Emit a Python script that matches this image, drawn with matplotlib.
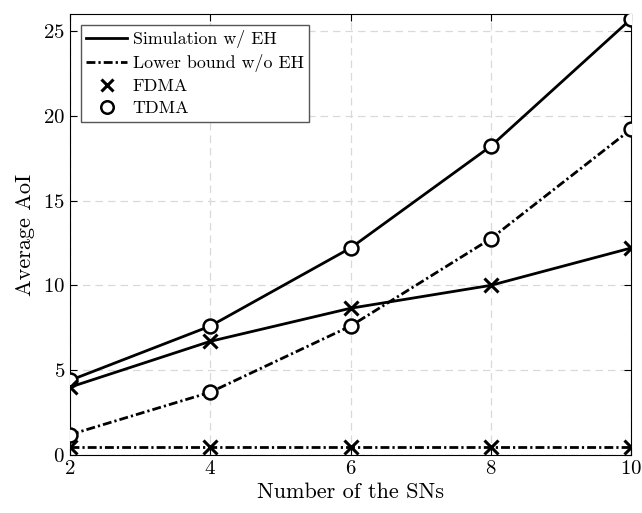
import matplotlib.pyplot as plt
from matplotlib.lines import Line2D

plt.rcParams['font.family'] = ['cmr10', 'DejaVu Serif']
plt.rcParams['mathtext.fontset'] = 'cm'
plt.rcParams['axes.formatter.use_mathtext'] = True

num_sns = [2, 4, 6, 8, 10]
tdma_sim = [4.4, 7.6, 12.2, 18.2, 25.7]
fdma_sim = [4.0, 6.7, 8.65, 10.0, 12.2]
tdma_lb = [1.2, 3.7, 7.6, 12.75, 19.2]
fdma_lb = [0.5, 0.5, 0.5, 0.5, 0.5]

fig = plt.figure(figsize=(6.42, 5.13), dpi=100)
ax = fig.add_axes([0.109, 0.113, 0.874, 0.86])

lw = 2.0
ms = 10
dashdot = (0, (3.2, 1.1, 0.8, 1.1))
ax.plot(num_sns, tdma_sim, color='k', ls='-', lw=lw, marker='o', ms=ms, mfc='white', mew=1.8, zorder=3)
ax.plot(num_sns, fdma_sim, color='k', ls='-', lw=lw, marker='x', ms=ms, mew=2.2, zorder=3)
ax.plot(num_sns, tdma_lb, color='k', ls=dashdot, lw=lw, marker='o', ms=ms, mfc='white', mew=1.8, zorder=3)
ax.plot(num_sns, fdma_lb, color='k', ls=dashdot, lw=lw, marker='x', ms=ms, mew=2.2, zorder=3)

ax.set_xlim(2, 10)
ax.set_ylim(0, 26)
ax.set_xticks([2, 4, 6, 8, 10])
ax.set_yticks([0, 5, 10, 15, 20, 25])
ax.grid(True, ls=(0, (6, 4)), color='#d9d9d9', lw=0.9)
ax.tick_params(direction='in', top=True, right=True, labelsize=15, length=5)
for s in ax.spines.values():
    s.set_linewidth(0.8)

ax.set_xlabel('Number of the SNs', fontsize=16, labelpad=3)
ax.set_ylabel('Average AoI', fontsize=16, labelpad=6)

handles = [
    Line2D([], [], color='k', ls='-', lw=lw),
    Line2D([], [], color='k', ls=dashdot, lw=lw),
    Line2D([], [], color='k', ls='none', marker='x', ms=9, mew=2.2),
    Line2D([], [], color='k', ls='none', marker='o', ms=9, mfc='white', mew=1.8),
]
labels = ['Simulation w/ EH', 'Lower bound w/o EH', 'FDMA', 'TDMA']
leg = ax.legend(handles, labels, loc='upper left', fontsize=12.9, fancybox=False,
                edgecolor='#555555', framealpha=1, handlelength=2.3,
                handletextpad=0.3, borderaxespad=0.6, labelspacing=0.36,
                borderpad=0.3)
leg.get_frame().set_linewidth(1.0)

fig.savefig('out.png', dpi=100)
